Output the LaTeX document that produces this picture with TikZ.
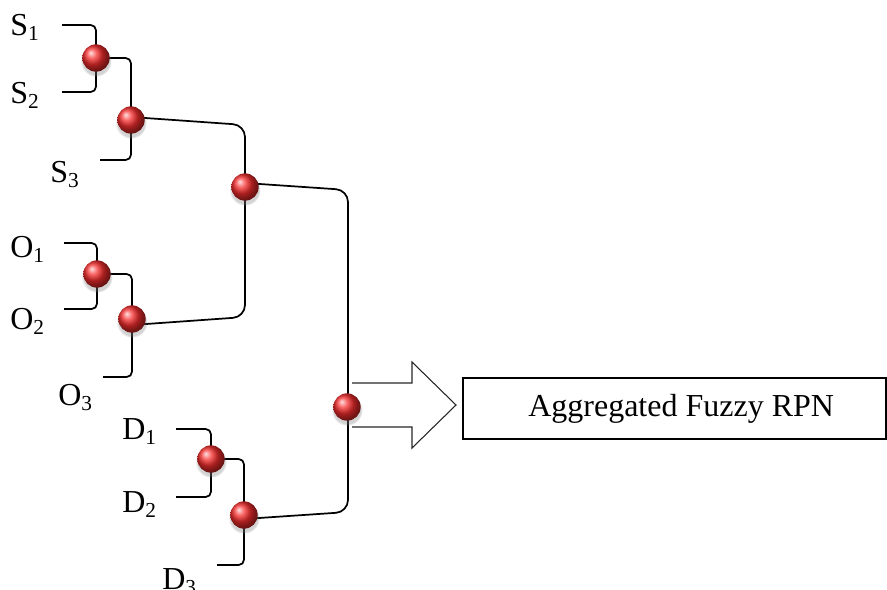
\documentclass[tikz,border=0pt]{standalone}
\usepackage{fontspec}
\setmainfont{Liberation Serif}
\usetikzlibrary{shadows,backgrounds,calc}
\definecolor{ballred}{RGB}{245,45,45}
\newcommand\lsub[1]{\raisebox{-4pt}{\fontsize{16}{17}\selectfont #1}}
\tikzset{
  agg/.style={circle, minimum size=20.5pt, inner sep=0pt, shading=ball, ball color=ballred,
    circular drop shadow={shadow xshift=0pt, shadow yshift=-2pt, shadow scale=1.15, opacity=0.35}},
  lbl/.style={anchor=base west, inner sep=0pt, font=\fontsize{24}{28}\selectfont},
  wire/.style={line width=1.3pt, rounded corners=4pt},
  bendwire/.style={line width=1.3pt, rounded corners=9pt},
}
\begin{document}
\begin{tikzpicture}[x=0.75pt,y=-0.75pt]
\useasboundingbox (0,0) rectangle (887,589);
\clip (0,0) rectangle (887,589);
% labels
\node[lbl] (S1) at (10,35) {S\lsub{1}};
\node[lbl] (S2) at (10,103) {S\lsub{2}};
\node[lbl] (S3) at (50,182) {S\lsub{3}};
\node[lbl] (O1) at (10,257) {O\lsub{1}};
\node[lbl] (O2) at (10,329) {O\lsub{2}};
\node[lbl] (O3) at (58,405) {O\lsub{3}};
\node[lbl] (D1) at (122,439) {D\lsub{1}};
\node[lbl] (D2) at (122,512) {D\lsub{2}};
\node[lbl] (D3) at (162,589) {D\lsub{3}};
% free ends of the input lines
\coordinate (s1) at (62,25);
\coordinate (s2) at (62,92);
\coordinate (s3) at (100,160);
\coordinate (o1) at (64,243);
\coordinate (o2) at (64,309);
\coordinate (o3) at (103,377);
\coordinate (d1) at (176,429);
\coordinate (d2) at (176,497);
\coordinate (d3) at (217,565);
% aggregation balls
\node[agg] (b1) at (96,58) {};
\node[agg] (b2) at (131,120) {};
\node[agg] (b3) at (245,187) {};
\node[agg] (bo1) at (97,274) {};
\node[agg] (bo2) at (132,319) {};
\node[agg] (bd1) at (211,459) {};
\node[agg] (bd2) at (244,515) {};
\node[agg] (b4) at (347,407) {};
% result box
\node[draw, line width=1.5pt, minimum width=317.25pt, minimum height=45.75pt, inner sep=0pt,
      font=\fontsize{24}{28}\selectfont] (rpn) at (674.5,408.5) {\hspace{10pt}Aggregated Fuzzy RPN};
\begin{scope}[on background layer]
  \draw[wire] (s1) -| (b1.center);
  \draw[wire] (s2) -| (b1.center);
  \draw[wire] (b1.center) -| (b2.center);
  \draw[wire] (s3) -| (b2.center);
  \draw[wire] (o1) -| (bo1.center);
  \draw[wire] (o2) -| (bo1.center);
  \draw[wire] (bo1.center) -| (bo2.center);
  \draw[wire] (o3) -| (bo2.center);
  \draw[wire] (d1) -| (bd1.center);
  \draw[wire] (d2) -| (bd1.center);
  \draw[wire] (bd1.center) -| (bd2.center);
  \draw[wire] (d3) -| (bd2.center);
  \draw[bendwire] ($(b2.center)+(0,-3)$) -- ($(b3.center|-b2.center)+(0,5)$) -- (b3.center);
  \draw[bendwire] ($(bo2.center)+(0,6)$) -- ($(b3.center|-bo2.center)+(0,-2)$) -- (b3.center);
  \draw[bendwire] ($(b3.center)+(0,-4)$) -- ($(b4.center|-b3.center)+(1,3)$) -- ($(b4.center)+(1,0)$);
  \draw[bendwire] ($(bd2.center)+(0,4)$) -- ($(b4.center|-bd2.center)+(1,-3)$) -- ($(b4.center)+(1,0)$);
  % block arrow from the last ball to the result box
  \draw[line width=0.8pt, draw=black!85] ($(b4.center)+(5,-24)$) -- ($(rpn.west|-b4.center)+(-50,-24)$)
     -- ($(rpn.west|-b4.center)+(-50,-45)$) -- ($(rpn.west|-b4.center)+(-6,-2)$)
     -- ($(rpn.west|-b4.center)+(-50,41)$) -- ($(rpn.west|-b4.center)+(-50,20)$)
     -- ($(b4.center)+(5,20)$);
\end{scope}
\end{tikzpicture}
\end{document}
